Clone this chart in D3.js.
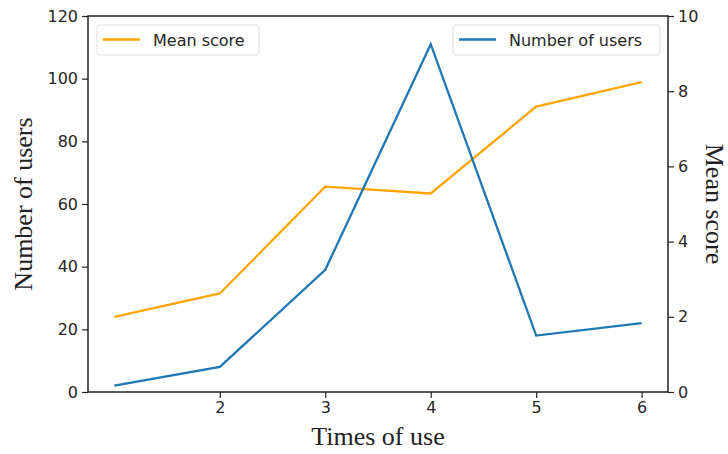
<!DOCTYPE html>
<html>
<head>
<meta charset="utf-8">
<script src="https://cdn.jsdelivr.net/npm/d3@7"></script>
<style>
  body { margin: 0; background: white; }
</style>
</head>
<body>
<div id="chart"></div>
<script>
// data
const timesOfUse = [1, 2, 3, 4, 5, 6];
const numberOfUsers = [2, 8, 39, 111, 18, 22];
const meanScore = [2.0, 2.62, 5.46, 5.28, 7.59, 8.24];
const xTicks = [2, 3, 4, 5, 6];
const leftTicks = [0, 20, 40, 60, 80, 100, 120];
const rightTicks = [0, 2, 4, 6, 8, 10];

const width = 728;
const height = 454;
const margin = { top: 16, right: 60, bottom: 62, left: 88 };
const innerW = width - margin.left - margin.right;
const innerH = height - margin.top - margin.bottom;

const blue = "#1f77b4";
const orange = "#ffa500";
const tickFont = "DejaVu Sans";
const labelFont = "Liberation Serif";

const svg = d3.select("#chart")
  .append("svg")
  .attr("width", width)
  .attr("height", height)
  .style("background-color", "white");

const bounds = svg.append("g")
  .attr("transform", `translate(${margin.left},${margin.top})`);

// scales
const xScale = d3.scaleLinear().domain([0.75, 6.25]).range([0, innerW]);
const yLeft = d3.scaleLinear().domain([0, 120]).range([innerH, 0]);
const yRight = d3.scaleLinear().domain([0, 10]).range([innerH, 0]);

// lines
const usersLine = d3.line()
  .x((d, i) => xScale(timesOfUse[i]))
  .y((d) => yLeft(d));
const scoreLine = d3.line()
  .x((d, i) => xScale(timesOfUse[i]))
  .y((d) => yRight(d));

bounds.append("path")
  .attr("d", scoreLine(meanScore))
  .attr("fill", "none")
  .attr("stroke", orange)
  .attr("stroke-width", 2.3);

bounds.append("path")
  .attr("d", usersLine(numberOfUsers))
  .attr("fill", "none")
  .attr("stroke", blue)
  .attr("stroke-width", 2.3);

// axes
function styleAxis(g) {
  g.selectAll(".domain").remove();
  g.selectAll("line").attr("stroke", "#222").attr("stroke-width", 1.2);
  g.selectAll("text")
    .attr("font-family", tickFont)
    .attr("font-size", 16)
    .attr("fill", "#262626");
}

bounds.append("g")
  .attr("transform", `translate(0,${innerH})`)
  .call(d3.axisBottom(xScale).tickValues(xTicks).tickFormat(d3.format("d")).tickSize(6).tickPadding(4))
  .call(styleAxis);

bounds.append("g")
  .call(d3.axisLeft(yLeft).tickValues(leftTicks).tickSize(6).tickPadding(4))
  .call(styleAxis);

bounds.append("g")
  .attr("transform", `translate(${innerW},0)`)
  .call(d3.axisRight(yRight).tickValues(rightTicks).tickSize(6).tickPadding(4))
  .call(styleAxis);

// frame
bounds.append("rect")
  .attr("width", innerW)
  .attr("height", innerH)
  .attr("fill", "none")
  .attr("stroke", "#222")
  .attr("stroke-width", 1.5);

// axis titles
svg.append("text")
  .attr("x", margin.left + innerW / 2)
  .attr("y", 445)
  .attr("text-anchor", "middle")
  .attr("font-family", labelFont)
  .attr("font-size", 26)
  .attr("fill", "#222")
  .text("Times of use");

svg.append("text")
  .attr("transform", `translate(32,${margin.top + innerH / 2}) rotate(-90)`)
  .attr("text-anchor", "middle")
  .attr("font-family", labelFont)
  .attr("font-size", 26)
  .attr("fill", "#222")
  .text("Number of users");

svg.append("text")
  .attr("transform", `translate(706,${margin.top + innerH / 2}) rotate(90)`)
  .attr("text-anchor", "middle")
  .attr("font-family", labelFont)
  .attr("font-size", 26)
  .attr("fill", "#222")
  .text("Mean score");

// legends
function legend(x, y, w, color, label) {
  const g = svg.append("g").attr("transform", `translate(${x},${y})`);
  g.append("rect")
    .attr("width", w)
    .attr("height", 30)
    .attr("rx", 3)
    .attr("fill", "white")
    .attr("fill-opacity", 0.8)
    .attr("stroke", "#ddd")
    .attr("stroke-width", 1);
  g.append("line")
    .attr("x1", 6).attr("x2", 43)
    .attr("y1", 14.5).attr("y2", 14.5)
    .attr("stroke", color)
    .attr("stroke-width", 2.3);
  g.append("text")
    .attr("x", 56)
    .attr("y", 20.5)
    .attr("font-family", tickFont)
    .attr("font-size", 16)
    .attr("fill", "#262626")
    .text(label);
}

legend(97, 25, 162, orange, "Mean score");
legend(453, 25, 207, blue, "Number of users");
</script>
</body>
</html>
